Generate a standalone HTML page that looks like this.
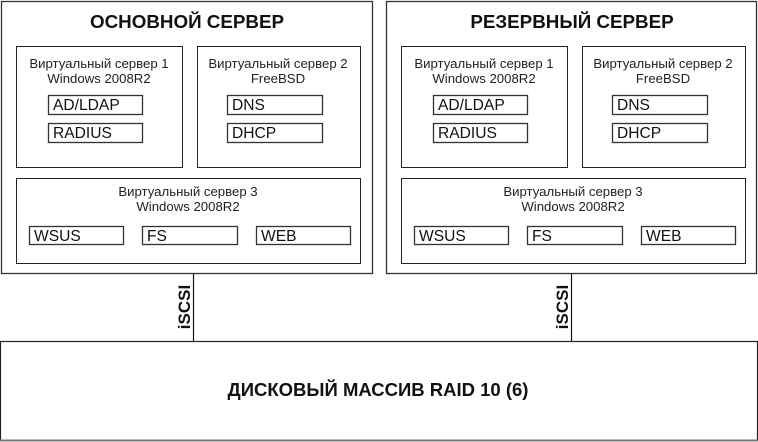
<!DOCTYPE html>
<html><head><meta charset="utf-8"><style>html,body{margin:0;padding:0;background:#fff}svg{display:block}</style></head>
<body>
<svg width="758" height="442" xmlns="http://www.w3.org/2000/svg" font-family="Liberation Sans, Arial, sans-serif">
<defs>
<g id="srv">
  <rect x="16.5" y="46.5" width="166" height="121" fill="#fff" stroke="#222" stroke-width="1"/>
  <rect x="197.5" y="46.5" width="163" height="121" fill="#fff" stroke="#222" stroke-width="1"/>
  <rect x="16.5" y="178.5" width="344" height="85" fill="#fff" stroke="#222" stroke-width="1"/>
  <g font-size="13.2" fill="#222" text-anchor="middle">
    <text x="99" y="68">Виртуальный сервер 1</text>
    <text x="99" y="83">Windows 2008R2</text>
    <text x="278" y="68">Виртуальный сервер 2</text>
    <text x="278" y="83">FreeBSD</text>
    <text x="188" y="196">Виртуальный сервер 3</text>
    <text x="188" y="211">Windows 2008R2</text>
  </g>
  <g fill="#fff" stroke="#333" stroke-width="1.3">
    <rect x="48.5" y="95.5" width="94" height="19"/>
    <rect x="48.5" y="123.5" width="94" height="19"/>
    <rect x="227.5" y="95.5" width="95" height="19"/>
    <rect x="227.5" y="123.5" width="95" height="19"/>
    <rect x="29.5" y="226.5" width="94" height="18"/>
    <rect x="142.5" y="226.5" width="95" height="18"/>
    <rect x="256.5" y="226.5" width="94" height="18"/>
  </g>
  <g font-size="15.6" fill="#111">
    <text x="53" y="110">AD/LDAP</text>
    <text x="53" y="138">RADIUS</text>
    <text x="232" y="110">DNS</text>
    <text x="232" y="138">DHCP</text>
    <text x="34" y="241">WSUS</text>
    <text x="147" y="241">FS</text>
    <text x="261" y="241">WEB</text>
  </g>
</g>
</defs>
<rect x="1.5" y="1.5" width="371" height="272" fill="#fff" stroke="#333" stroke-width="1.3"/>
<rect x="386.5" y="1.5" width="370" height="272" fill="#fff" stroke="#333" stroke-width="1.3"/>
<text x="187" y="28" font-size="18.8" font-weight="bold" text-anchor="middle" fill="#111">ОСНОВНОЙ СЕРВЕР</text>
<text x="572" y="28" font-size="18.8" font-weight="bold" text-anchor="middle" fill="#111">РЕЗЕРВНЫЙ СЕРВЕР</text>
<use href="#srv"/>
<use href="#srv" transform="translate(385,0)"/>
<line x1="193.5" y1="274" x2="193.5" y2="341" stroke="#111" stroke-width="1.2"/>
<line x1="571.5" y1="274" x2="571.5" y2="341" stroke="#111" stroke-width="1.2"/>
<text transform="translate(190,307) rotate(-90)" font-size="17" font-weight="bold" text-anchor="middle" fill="#111">iSCSI</text>
<text transform="translate(568,307) rotate(-90)" font-size="17" font-weight="bold" text-anchor="middle" fill="#111">iSCSI</text>
<rect x="0.5" y="341.5" width="757" height="99" fill="#fff" stroke="#222" stroke-width="1.2"/>
<line x1="0" y1="440.5" x2="758" y2="440.5" stroke="#777" stroke-width="2"/>
<text x="378" y="396" font-size="18.5" font-weight="bold" text-anchor="middle" fill="#111">ДИСКОВЫЙ МАССИВ RAID 10 (6)</text>
</svg>
</body></html>
